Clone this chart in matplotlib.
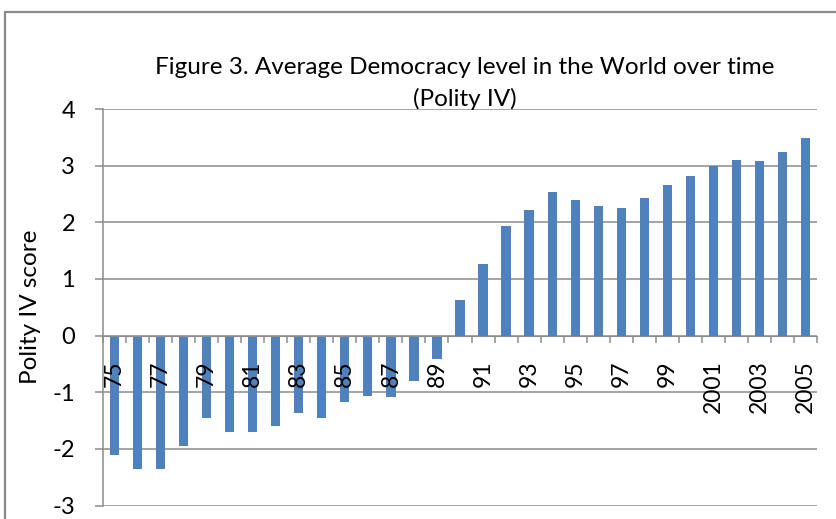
import matplotlib
matplotlib.use("Agg")
import matplotlib.pyplot as plt
from matplotlib.patches import Rectangle
import numpy as np

plt.rcParams['font.family'] = ['Lato', 'DejaVu Sans']

# average Polity IV score per year, 1975-2005
years = list(range(1975, 2006))
scores = [-2.10, -2.35, -2.35, -1.95, -1.45, -1.70, -1.70, -1.59, -1.36, -1.45,
          -1.18, -1.06, -1.09, -0.81, -0.41, 0.62, 1.26, 1.94, 2.21, 2.53,
          2.40, 2.29, 2.26, 2.42, 2.65, 2.81, 3.00, 3.10, 3.08, 3.24, 3.49]
year_labels = ['75', '77', '79', '81', '83', '85', '87', '89', '91', '93',
               '95', '97', '99', '2001', '2003', '2005']
yticks = [-3, -2, -1, 0, 1, 2, 3, 4]

W, H = 836, 519
fig = plt.figure(figsize=(W / 100, H / 100), dpi=100)
ax = fig.add_axes([103 / W, 1 - 505.5 / H, (817 - 103) / W, (505.5 - 109) / H])

x = np.arange(len(years))
ax.bar(x, scores, width=0.4, color='#4F81BD', zorder=2)

ax.set_xlim(-0.5, len(years) - 0.5)
ax.set_ylim(-3, 4)

grid_col = '#8C8C8C'
for v in yticks:
    ax.axhline(v, color=grid_col, lw=1.1, zorder=1)

# x axis sits at zero, ticks on category boundaries, labels drawn over the bars
ax.spines['bottom'].set_position(('data', 0))
ax.spines['bottom'].set_color(grid_col)
ax.spines['left'].set_color(grid_col)
ax.spines['left'].set_linewidth(1.1)
ax.spines['top'].set_visible(False)
ax.spines['right'].set_visible(False)
ax.xaxis.set_zorder(5)

ax.set_xticks(x[::2])
ax.set_xticklabels(year_labels, rotation=90, fontsize=16.5)
ax.set_xticks(np.arange(len(years) + 1) - 0.5, minor=True)
ax.tick_params(axis='x', which='major', length=0, pad=18)
ax.tick_params(axis='x', which='minor', length=5, width=1.1, color=grid_col, direction='out')

ax.set_yticks(yticks)
ax.set_yticklabels([str(v) for v in yticks], fontsize=17)
ax.tick_params(axis='y', length=6, width=1.1, color=grid_col, pad=14)

fig.text(31 / W, 1 - 307 / H, 'Polity IV score', rotation=90, fontsize=17.5,
         ha='center', va='center')

fig.text(465 / W, 1 - 67 / H, 'Figure 3. Average Democracy level in the World over time',
         fontsize=17.5, ha='center', va='center')
fig.text(465 / W, 1 - 99 / H, '(Polity IV)', fontsize=17.5, ha='center', va='center')

fig.patches.append(Rectangle((5 / W, -0.2), 1.2, 1.2 - 12 / H, transform=fig.transFigure,
                             fill=False, edgecolor='#8A8A8A', lw=1.6))

fig.savefig('out.png', dpi=100)
